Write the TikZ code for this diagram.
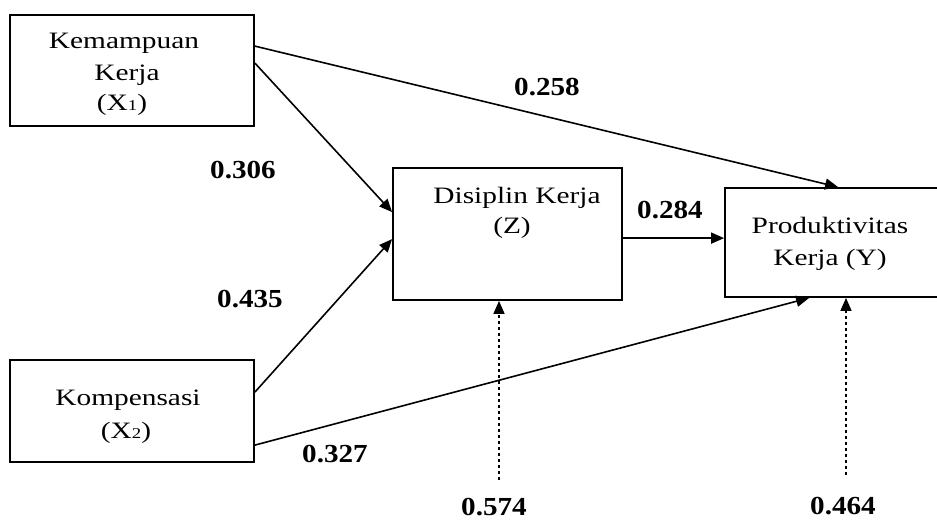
\documentclass[tikz,border=0pt]{standalone}
\usepackage{fontspec}
\usepackage{graphicx}
\setmainfont{Liberation Serif}
\usetikzlibrary{arrows.meta,calc}
\newcommand\boxtxt[1]{\scalebox{1.25}[1]{\fontsize{23.5}{28}\selectfont #1}}
\newcommand\coef[1]{\scalebox{1.12}[1]{\fontsize{26}{30}\selectfont\bfseries #1}}
\newcommand\sbs[1]{{\fontsize{15}{15}\selectfont #1}}
\tikzset{
  varbox/.style={draw, line width=1.8pt, inner sep=0pt},
  txt/.style={anchor=base, inner sep=0pt},
  conn/.style={line width=1.6pt, -{Triangle[length=13pt,width=11pt]}},
  errconn/.style={line width=1.6pt, dash pattern=on 3pt off 3pt, -{Triangle[length=13pt,width=11pt]}}
}
\begin{document}
\begin{tikzpicture}[x={(1pt,0)}, y={(0,-1pt)}]
\useasboundingbox (0,0) rectangle (937,520);
\clip (0,0) rectangle (937,520);
% boxes
\node[varbox, minimum width=244pt, minimum height=111pt] (x1) at (132,70.5) {};
\node[varbox, minimum width=244pt, minimum height=102pt] (x2) at (132,411) {};
\node[varbox, minimum width=229pt, minimum height=132pt] (z) at (507.5,234) {};
\node[varbox, minimum width=222pt, minimum height=109pt] (y) at (836,242.5) {};
% box texts
\node[txt] (x1a) at (124,48) {\boxtxt{Kemampuan}};
\node[txt] (x1b) at (127,80) {\boxtxt{Kerja}};
\node[txt] (x1c) at (122,110) {\boxtxt{(X\sbs{1})}};
\node[txt] (x2a) at (128,405) {\boxtxt{Kompensasi}};
\node[txt] (x2b) at (126,438) {\boxtxt{(X\sbs{2})}};
\node[txt] (za) at (517,203) {\boxtxt{Disiplin Kerja}};
\node[txt] (zb) at (512,233) {\boxtxt{(Z)}};
\node[txt] (ya) at (830,233) {\boxtxt{Produktivitas}};
\node[txt] (yb) at (830,265) {\boxtxt{Kerja (Y)}};
% error terms
\coordinate (e1) at (499,480);
\coordinate (e2) at (846,475);
% connectors
\draw[conn] ($(x1.north east)+(0,32)$) -- ($(y.north west)+(114,0)$);
\draw[conn] ($(x1.north east)+(0,49)$) -- ($(z.north west)+(0,45)$);
\draw[conn] ($(x2.north east)+(0,33)$) -- ($(z.north west)+(0,72)$);
\draw[conn] ($(x2.north east)+(0,86)$) -- ($(y.south west)+(85,0)$);
\draw[conn] ($(z.north east)+(0,71)$) -- ($(y.north west)+(0,51)$);
\draw[errconn] (e1) -- (e1 |- z.south);
\draw[errconn] (e2) -- (e2 |- y.south);
% coefficients
\node[txt] (c258) at (547,95) {\coef{0.258}};
\node[txt] (c306) at (243,178) {\coef{0.306}};
\node[txt] (c435) at (250,307) {\coef{0.435}};
\node[txt] (c284) at (670,218) {\coef{0.284}};
\node[txt] (c327) at (335,462) {\coef{0.327}};
\node[txt] (c574) at (494,515) {\coef{0.574}};
\node[txt] (c464) at (843,514) {\coef{0.464}};
\end{tikzpicture}
\end{document}
